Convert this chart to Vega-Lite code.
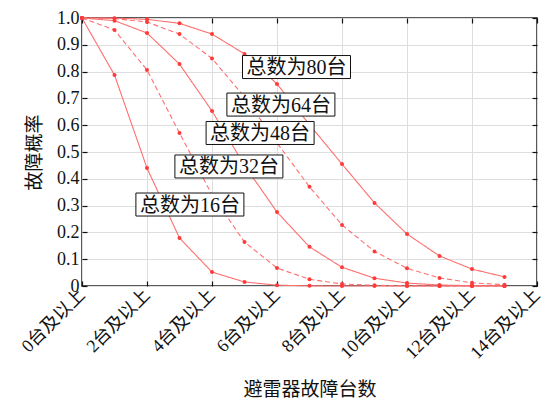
{
  "$schema": "https://vega.github.io/schema/vega-lite/v6.json",
  "width": 455,
  "height": 268,
  "autosize": {"type": "none"},
  "padding": {"left": 82, "top": 18, "right": 17, "bottom": 118},
  "background": "white",
  "config": {
    "view": {"stroke": "#222222", "strokeWidth": 1.5},
    "font": "Liberation Serif",
    "axis": {
      "domain": false,
      "grid": true,
      "gridColor": "#dedede",
      "gridWidth": 1,
      "tickColor": "#111111",
      "tickSize": -5,
      "tickWidth": 1.2,
      "labelColor": "#111111",
      "labelFont": "Liberation Serif, Noto Sans CJK SC",
      "labelFontSize": 18,
      "labelOverlap": false,
      "labelBound": false,
      "titleFont": "Liberation Serif, Noto Sans CJK SC",
      "titleFontSize": 19,
      "titleFontWeight": "normal",
      "titleColor": "#111111"
    }
  },
  "datasets": {
    "curves": [
      {"n": "16", "k": 0, "p": 1.0}, {"n": "16", "k": 1, "p": 0.787}, {"n": "16", "k": 2, "p": 0.44}, {"n": "16", "k": 3, "p": 0.179}, {"n": "16", "k": 4, "p": 0.052}, {"n": "16", "k": 5, "p": 0.015}, {"n": "16", "k": 6, "p": 0.003}, {"n": "16", "k": 7, "p": 0.0005}, {"n": "16", "k": 8, "p": 0.0}, {"n": "16", "k": 9, "p": 0.0}, {"n": "16", "k": 10, "p": 0.0}, {"n": "16", "k": 11, "p": 0.0}, {"n": "16", "k": 12, "p": 0.0}, {"n": "16", "k": 13, "p": 0.0},
      {"n": "32", "k": 0, "p": 1.0}, {"n": "32", "k": 1, "p": 0.955}, {"n": "32", "k": 2, "p": 0.806}, {"n": "32", "k": 3, "p": 0.571}, {"n": "32", "k": 4, "p": 0.34}, {"n": "32", "k": 5, "p": 0.164}, {"n": "32", "k": 6, "p": 0.067}, {"n": "32", "k": 7, "p": 0.025}, {"n": "32", "k": 8, "p": 0.0075}, {"n": "32", "k": 9, "p": 0.0025}, {"n": "32", "k": 10, "p": 0.0007}, {"n": "32", "k": 11, "p": 0.0002}, {"n": "32", "k": 12, "p": 0.0}, {"n": "32", "k": 13, "p": 0.0},
      {"n": "48", "k": 0, "p": 1.0}, {"n": "48", "k": 1, "p": 0.99}, {"n": "48", "k": 2, "p": 0.944}, {"n": "48", "k": 3, "p": 0.828}, {"n": "48", "k": 4, "p": 0.653}, {"n": "48", "k": 5, "p": 0.45}, {"n": "48", "k": 6, "p": 0.276}, {"n": "48", "k": 7, "p": 0.146}, {"n": "48", "k": 8, "p": 0.07}, {"n": "48", "k": 9, "p": 0.029}, {"n": "48", "k": 10, "p": 0.011}, {"n": "48", "k": 11, "p": 0.0037}, {"n": "48", "k": 12, "p": 0.0012}, {"n": "48", "k": 13, "p": 0.0004},
      {"n": "64", "k": 0, "p": 1.0}, {"n": "64", "k": 1, "p": 0.998}, {"n": "64", "k": 2, "p": 0.985}, {"n": "64", "k": 3, "p": 0.94}, {"n": "64", "k": 4, "p": 0.849}, {"n": "64", "k": 5, "p": 0.705}, {"n": "64", "k": 6, "p": 0.534}, {"n": "64", "k": 7, "p": 0.37}, {"n": "64", "k": 8, "p": 0.228}, {"n": "64", "k": 9, "p": 0.129}, {"n": "64", "k": 10, "p": 0.066}, {"n": "64", "k": 11, "p": 0.03}, {"n": "64", "k": 12, "p": 0.012}, {"n": "64", "k": 13, "p": 0.005},
      {"n": "80", "k": 0, "p": 1.0}, {"n": "80", "k": 1, "p": 0.9995}, {"n": "80", "k": 2, "p": 0.995}, {"n": "80", "k": 3, "p": 0.98}, {"n": "80", "k": 4, "p": 0.94}, {"n": "80", "k": 5, "p": 0.866}, {"n": "80", "k": 6, "p": 0.754}, {"n": "80", "k": 7, "p": 0.602}, {"n": "80", "k": 8, "p": 0.455}, {"n": "80", "k": 9, "p": 0.31}, {"n": "80", "k": 10, "p": 0.194}, {"n": "80", "k": 11, "p": 0.112}, {"n": "80", "k": 12, "p": 0.063}, {"n": "80", "k": 13, "p": 0.034}
    ],
    "labels": [
      {"n": "80", "lx": 6.6, "ly": 0.817, "text": "总数为80台"},
      {"n": "64", "lx": 6.12, "ly": 0.677, "text": "总数为64台"},
      {"n": "48", "lx": 5.48, "ly": 0.571, "text": "总数为48台"},
      {"n": "32", "lx": 4.52, "ly": 0.446, "text": "总数为32台"},
      {"n": "16", "lx": 3.32, "ly": 0.304, "text": "总数为16台"}
    ]
  },
  "layer": [
    {
      "data": {"name": "curves"},
      "mark": {"type": "line", "strokeWidth": 1.1, "color": "#ff6f6f"},
      "encoding": {
        "x": {
          "field": "k", "type": "quantitative",
          "scale": {"domain": [0, 14], "nice": false, "zero": false},
          "axis": {
            "orient": "bottom",
            "values": [0, 2, 4, 6, 8, 10, 12, 14],
            "labelExpr": "datum.value + '台及以上'",
            "labelAngle": -45,
            "labelAlign": "right",
            "labelBaseline": "middle",
            "labelPadding": 11,
            "labelFontSize": 18,
            "title": "避雷器故障台数",
            "titlePadding": 18
          }
        },
        "y": {
          "field": "p", "type": "quantitative",
          "scale": {"domain": [0, 1], "nice": false},
          "axis": {
            "orient": "left",
            "values": [0, 0.1, 0.2, 0.3, 0.4, 0.5, 0.6, 0.7, 0.8, 0.9, 1.0],
            "labelExpr": "datum.value == 0 ? '0' : format(datum.value, '.1f')",
            "labelPadding": 8,
            "title": "故障概率",
            "titlePadding": 12
          }
        },
        "detail": {"field": "n", "type": "nominal"},
        "strokeDash": {
          "field": "n", "type": "nominal",
          "scale": {"domain": ["16", "32", "48", "64", "80"], "range": [[1, 0], [5, 3], [1, 0], [5, 3], [1, 0]]},
          "legend": null
        }
      }
    },
    {
      "data": {"name": "curves"},
      "mark": {"type": "point", "filled": true, "size": 16, "color": "#ff3a3a", "opacity": 1},
      "encoding": {
        "x": {
          "field": "k", "type": "quantitative",
          "scale": {"domain": [0, 14], "nice": false, "zero": false},
          "axis": {"orient": "top", "values": [0, 2, 4, 6, 8, 10, 12, 14], "labels": false, "title": null, "grid": false}
        },
        "y": {
          "field": "p", "type": "quantitative",
          "scale": {"domain": [0, 1], "nice": false},
          "axis": {"orient": "right", "values": [0, 0.1, 0.2, 0.3, 0.4, 0.5, 0.6, 0.7, 0.8, 0.9, 1.0], "labels": false, "title": null, "grid": false}
        }
      }
    },
    {
      "data": {"name": "labels"},
      "mark": {"type": "point", "shape": "M-1,-0.213H1V0.213H-1Z", "size": 11664, "filled": true, "fill": "white", "stroke": "#111111", "strokeWidth": 1, "opacity": 1},
      "encoding": {
        "x": {"field": "lx", "type": "quantitative", "axis": null},
        "y": {"field": "ly", "type": "quantitative", "axis": null}
      }
    },
    {
      "data": {"name": "labels"},
      "mark": {"type": "text", "font": "Liberation Serif, Noto Sans CJK SC", "fontSize": 20, "color": "#111111", "align": "center", "baseline": "middle", "dy": 1},
      "encoding": {
        "x": {"field": "lx", "type": "quantitative", "axis": null},
        "y": {"field": "ly", "type": "quantitative", "axis": null},
        "text": {"field": "text"}
      }
    }
  ],
  "resolve": {"axis": {"x": "independent", "y": "independent"}}
}
